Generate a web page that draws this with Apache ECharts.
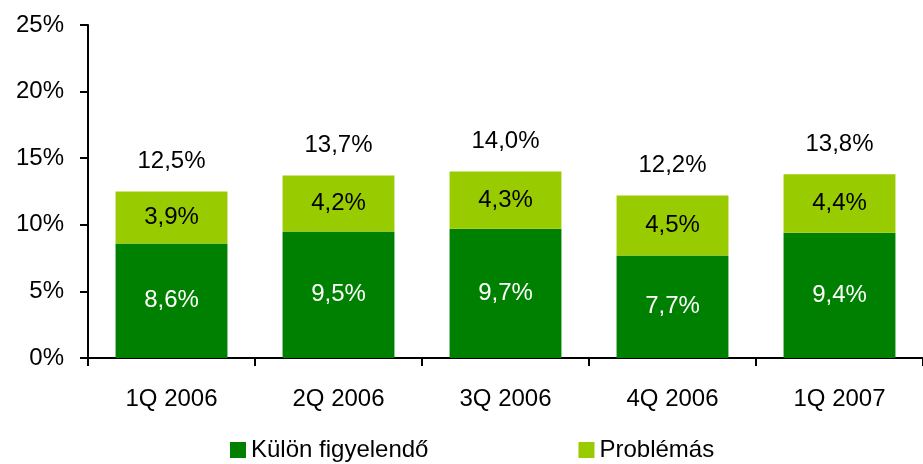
<!DOCTYPE html>
<html>
<head>
<meta charset="utf-8">
<script src="https://cdn.jsdelivr.net/npm/echarts@6/dist/echarts.min.js"></script>
<style>
  html, body { margin: 0; padding: 0; background: #fff; }
  #chart { width: 923px; height: 464px; }
</style>
</head>
<body>
<div id="chart"></div>
<script>
const quarters = ["1Q 2006", "2Q 2006", "3Q 2006", "4Q 2006", "1Q 2007"];
const kulon = [8.6, 9.5, 9.7, 7.7, 9.4];
const problemas = [3.9, 4.2, 4.3, 4.5, 4.4];
const totals = kulon.map((v, i) => v + problemas[i]);

const fmt = v => v.toFixed(1).replace(".", ",") + "%";
const font = "Liberation Sans, Arial, sans-serif";
const fs = 24;

const chart = echarts.init(document.getElementById("chart"));

chart.setOption({
  animation: false,
  textStyle: { fontFamily: font },
  grid: { left: 88, right: -5, top: 25, bottom: 106 },
  legend: {
    data: ["Külön figyelendő", "Problémás"],
    top: 438,
    left: 230,
    padding: 0,
    itemWidth: 16,
    itemHeight: 16,
    itemGap: 150,
    icon: "rect",
    textStyle: { fontSize: fs, color: "#000", fontFamily: font }
  },
  xAxis: {
    type: "category",
    data: quarters,
    axisLine: { lineStyle: { color: "#000", width: 2 } },
    axisTick: { show: true, length: 8, lineStyle: { color: "#000", width: 2 } },
    axisLabel: { color: "#000", fontSize: fs, margin: 29, fontFamily: font }
  },
  yAxis: {
    type: "value",
    min: 0,
    max: 25,
    interval: 5,
    splitLine: { show: false },
    axisLine: { show: true, lineStyle: { color: "#000", width: 2 } },
    axisTick: { show: true, length: 8, lineStyle: { color: "#000", width: 2 } },
    axisLabel: { color: "#000", fontSize: fs, margin: 24, formatter: "{value}%", fontFamily: font }
  },
  series: [
    {
      name: "Külön figyelendő",
      type: "bar",
      stack: "total",
      data: kulon,
      barWidth: "67%",
      itemStyle: { color: "#008000" },
      label: {
        show: true,
        position: "inside",
        color: "#fff",
        fontSize: fs,
        fontFamily: font,
        formatter: p => fmt(p.value)
      }
    },
    {
      name: "Problémás",
      type: "bar",
      stack: "total",
      data: problemas,
      itemStyle: { color: "#99CC00" },
      label: {
        show: true,
        position: "inside",
        color: "#000",
        fontSize: fs,
        fontFamily: font,
        formatter: p => fmt(p.value)
      }
    },
    {
      name: "Összesen",
      type: "bar",
      stack: "total",
      data: totals.map(() => 0),
      itemStyle: { color: "transparent" },
      label: {
        show: true,
        position: "top",
        distance: 18,
        color: "#000",
        fontSize: fs,
        fontFamily: font,
        formatter: p => fmt(totals[p.dataIndex])
      }
    }
  ]
});
</script>
</body>
</html>
